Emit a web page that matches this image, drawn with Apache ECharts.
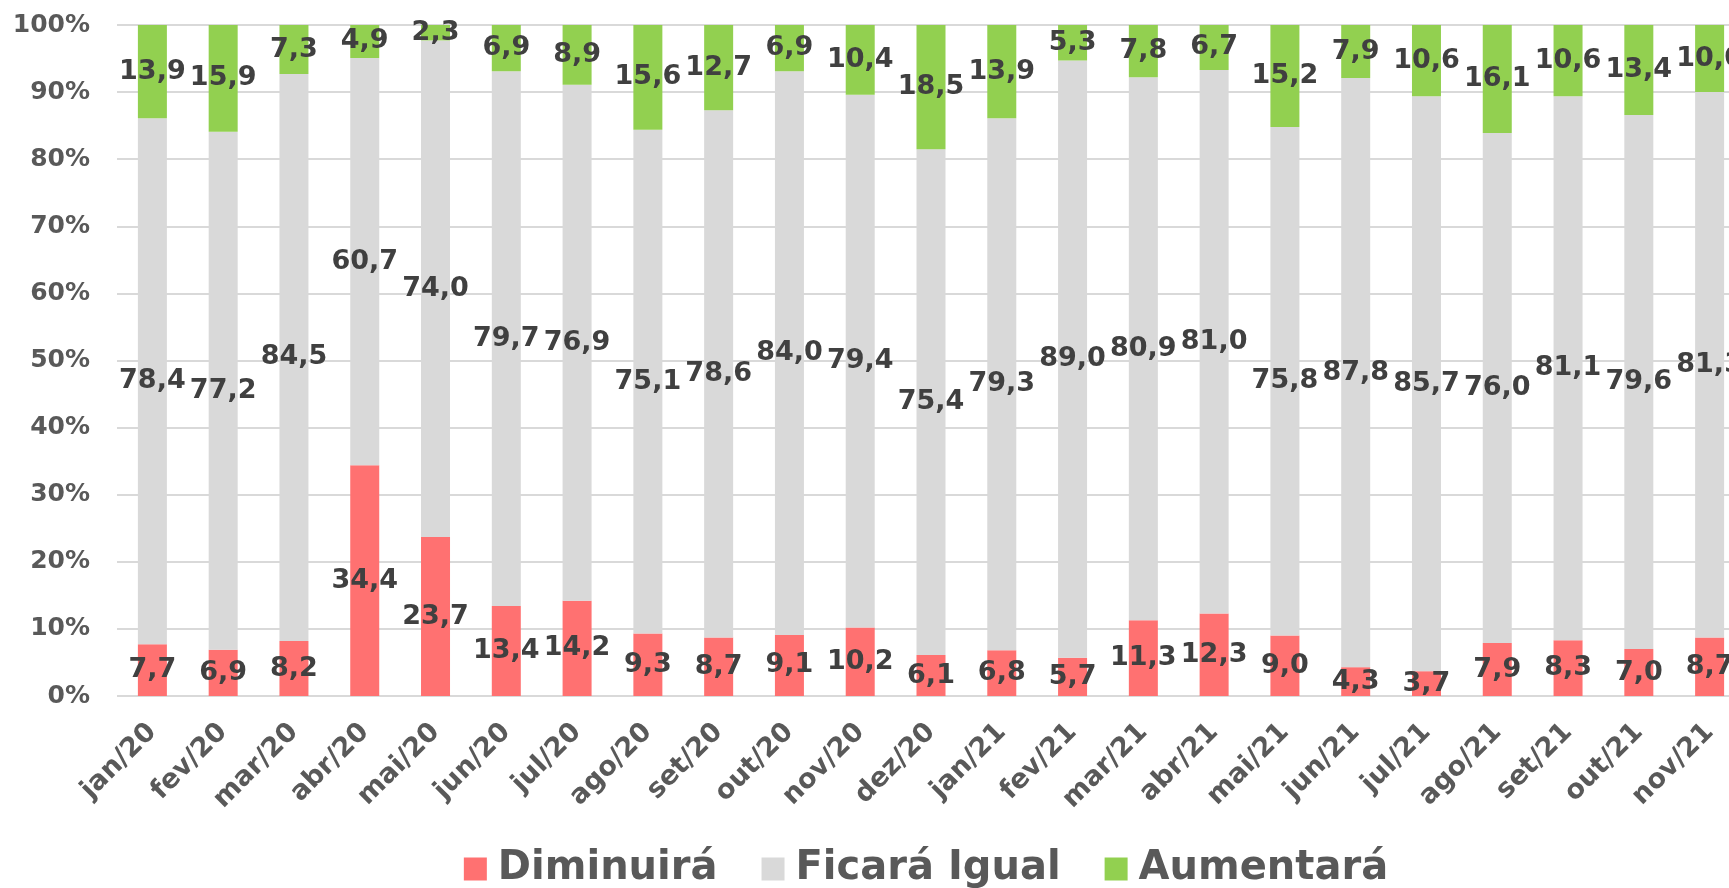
<!DOCTYPE html>
<html>
<head>
<meta charset="utf-8">
<script src="https://cdn.jsdelivr.net/npm/echarts@6/dist/echarts.min.js"></script>
<style>
  html, body { margin: 0; padding: 0; overflow: hidden; background: #fff; }
  #chart { width: 1852px; height: 888px; }
</style>
</head>
<body>
<div id="chart"></div>
<script>
const months = [
  "jan/20", "fev/20", "mar/20", "abr/20", "mai/20", "jun/20", "jul/20", "ago/20",
  "set/20", "out/20", "nov/20", "dez/20", "jan/21", "fev/21", "mar/21", "abr/21",
  "mai/21", "jun/21", "jul/21", "ago/21", "set/21", "out/21", "nov/21"
];
const diminuira = [7.7, 6.9, 8.2, 34.4, 23.7, 13.4, 14.2, 9.3, 8.7, 9.1, 10.2, 6.1, 6.8, 5.7, 11.3, 12.3, 9.0, 4.3, 3.7, 7.9, 8.3, 7.0, 8.7];
const ficaraIgual = [78.4, 77.2, 84.5, 60.7, 74.0, 79.7, 76.9, 75.1, 78.6, 84.0, 79.4, 75.4, 79.3, 89.0, 80.9, 81.0, 75.8, 87.8, 85.7, 76.0, 81.1, 79.6, 81.3];
const aumentara = [13.9, 15.9, 7.3, 4.9, 2.3, 6.9, 8.9, 15.6, 12.7, 6.9, 10.4, 18.5, 13.9, 5.3, 7.8, 6.7, 15.2, 7.9, 10.6, 16.1, 10.6, 13.4, 10.0];

const font = "DejaVu Sans";
const axisColor = "#595959";
const labelColor = "#404040";

const chart = echarts.init(document.getElementById("chart"));

function seriesOf(name, data, color) {
  return {
    name: name,
    type: "bar",
    stack: "total",
    data: data,
    barWidth: 29,
    itemStyle: { color: color },
    label: {
      show: true,
      position: "inside",
      color: labelColor,
      fontFamily: font,
      fontWeight: "bold",
      fontSize: 27,
      formatter: (p) => p.value.toFixed(1).replace(".", ",")
    }
  };
}

chart.setOption({
  animation: false,
  backgroundColor: "#fff",
  grid: { left: 117, right: 107, top: 25, bottom: 192 },
  legend: {
    bottom: -6,
    left: "center",
    itemWidth: 23,
    itemHeight: 23,
    itemGap: 44,
    icon: "rect",
    textStyle: {
      color: axisColor,
      fontFamily: font,
      fontWeight: "bold",
      fontSize: 40,
      padding: [0, 0, 0, 6]
    }
  },
  xAxis: {
    type: "category",
    data: months,
    axisLine: { show: false },
    axisTick: { show: false },
    axisLabel: {
      rotate: 45,
      margin: 32,
      interval: 0,
      color: axisColor,
      fontFamily: font,
      fontWeight: "bold",
      fontSize: 27
    }
  },
  yAxis: {
    type: "value",
    min: 0,
    max: 100,
    interval: 10,
    axisLine: { show: false },
    axisTick: { show: false },
    splitLine: { lineStyle: { color: "#d9d9d9", width: 2 } },
    axisLabel: {
      formatter: "{value}%",
      margin: 27,
      color: axisColor,
      fontFamily: font,
      fontWeight: "bold",
      fontSize: 25
    }
  },
  series: [
    seriesOf("Diminuirá", diminuira, "#ff7171"),
    seriesOf("Ficará Igual", ficaraIgual, "#d9d9d9"),
    seriesOf("Aumentará", aumentara, "#92d050")
  ]
});
</script>
</body>
</html>
